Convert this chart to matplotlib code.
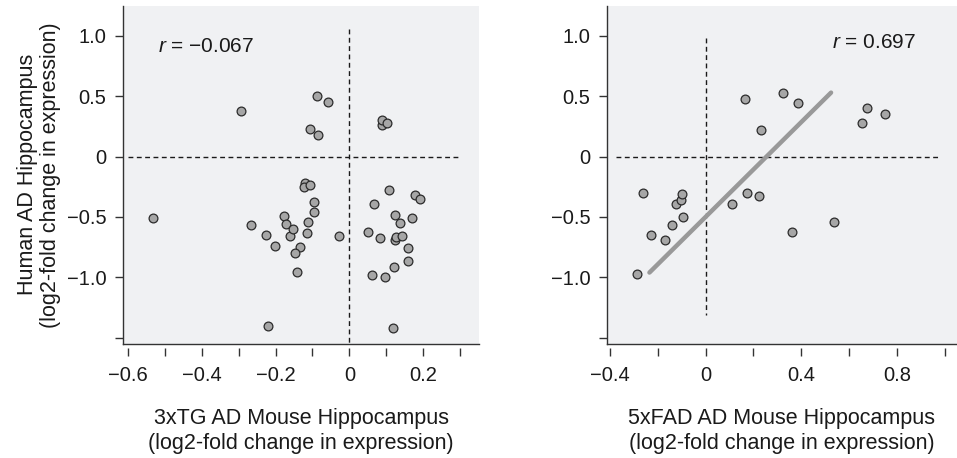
import numpy as np
import matplotlib
matplotlib.use("Agg")
import matplotlib.pyplot as plt

plt.rcParams['font.family'] = ['Liberation Sans', 'DejaVu Sans']
plt.rcParams['mathtext.fontset'] = 'custom'
plt.rcParams['mathtext.it'] = 'Liberation Sans:italic'
plt.rcParams['mathtext.rm'] = 'Liberation Sans'

# 3xTG vs human (left panel)
tg_x = [-0.534, -0.293, -0.267, -0.227, -0.201, -0.221, -0.176, -0.173, -0.161, -0.154,
        -0.134, -0.148, -0.141, -0.120, -0.122, -0.108, -0.095, -0.096, -0.113, -0.116,
        -0.108, -0.084, -0.089, -0.058, -0.027, 0.052, 0.068, 0.082, 0.061, 0.097,
        0.088, 0.090, 0.101, 0.107, 0.124, 0.138, 0.123, 0.128, 0.142, 0.170,
        0.178, 0.191, 0.159, 0.160, 0.122, 0.118]
tg_y = [-0.506, 0.374, -0.567, -0.653, -0.738, -1.403, -0.493, -0.561, -0.656, -0.600,
        -0.752, -0.799, -0.959, -0.222, -0.255, -0.236, -0.379, -0.462, -0.540, -0.636,
        0.225, 0.175, 0.498, 0.454, -0.656, -0.628, -0.396, -0.675, -0.978, -0.995,
        0.261, 0.302, 0.274, -0.280, -0.487, -0.553, -0.691, -0.664, -0.656, -0.509,
        -0.316, -0.354, -0.755, -0.863, -0.912, -1.422]
tg_r = "\u22120.067"

# 5xFAD vs human (right panel)
fad_x = [-0.287, -0.264, -0.230, -0.169, -0.142, -0.123, -0.105, -0.098, -0.093, 0.109,
         0.174, 0.223, 0.165, 0.232, 0.324, 0.388, 0.363, 0.537, 0.653, 0.676, 0.749]
fad_y = [-0.969, -0.306, -0.651, -0.693, -0.566, -0.392, -0.359, -0.312, -0.497, -0.395,
         -0.306, -0.326, 0.472, 0.218, 0.524, 0.444, -0.621, -0.546, 0.281, 0.402, 0.356]
fad_r = "0.697"
fit_slope = 1.96
fit_intercept = -0.50
fit_x = [-0.235, 0.525]

ytick_vals = [1.0, 0.5, 0.0, -0.5, -1.0, -1.5]
ytick_labels = ["1.0", "0.5", "0", "\u22120.5", "\u22121.0", ""]
left_xticks = [-0.6, -0.5, -0.4, -0.3, -0.2, -0.1, 0.0, 0.1, 0.2, 0.3]
left_xlabels = ["\u22120.6", "", "\u22120.4", "", "\u22120.2", "", "0", "", "0.2", ""]
right_xticks = [-0.4, -0.2, 0.0, 0.2, 0.4, 0.6, 0.8, 1.0]
right_xlabels = ["\u22120.4", "", "0", "", "0.4", "", "0.8", ""]

bg = "#f0f1f3"
dot_face = "#a6a6a6"
dot_edge = "#2b2b2b"
axc = "#333333"
txt = "#1a1a1a"
tick_fs = 14.5
label_fs = 15.5
r_fs = 15

fig = plt.figure(figsize=(9.57, 4.58), dpi=100)
W, H = 957, 458
ax1 = fig.add_axes([123 / W, 1 - 343.5 / H, (479 - 123) / W, (343.5 - 6) / H])
ax2 = fig.add_axes([607 / W, 1 - 343.5 / H, (957 - 607) / W, (343.5 - 6) / H])


def style(ax, xlim, xticks, xlabels):
    ax.set_facecolor(bg)
    ax.set_xlim(xlim)
    ax.set_ylim(-1.548, 1.246)
    for s in ["top", "right"]:
        ax.spines[s].set_visible(False)
    ax.spines["left"].set_color(axc)
    ax.spines["left"].set_linewidth(1.0)
    ax.spines["bottom"].set_position(("outward", 3))
    ax.spines["bottom"].set_visible(False)
    ax.plot([0, 1], [0, 0], transform=ax.transAxes, color=axc, lw=1.0, clip_on=False)
    ax.set_yticks(ytick_vals)
    ax.set_yticklabels(ytick_labels)
    ax.set_xticks(xticks)
    ax.set_xticklabels(xlabels)
    ax.tick_params(axis="both", direction="out", length=6, width=1.0, color=axc,
                   labelsize=tick_fs, labelcolor=txt)
    ax.tick_params(axis="x", pad=7)
    ax.tick_params(axis="y", pad=6)


style(ax1, (-0.6144, 0.352), left_xticks, left_xlabels)
style(ax2, (-0.4126, 1.052), right_xticks, right_xlabels)

dash = dict(color=txt, lw=1.0, dashes=(3.5, 2.5), zorder=1)
ax1.plot([-0.6, 0.3], [0, 0], **dash)
ax1.plot([0, 0], [1.053, -1.547], **dash)
ax2.plot([-0.377, 0.986], [0, 0], **dash)
ax2.plot([0, 0], [0.978, -1.311], **dash)

fx = np.array(fit_x)
ax2.plot(fx, fit_intercept + fit_slope * fx, color="#999999", lw=3.2,
         solid_capstyle="round", zorder=2)

ax1.scatter(tg_x, tg_y, s=40, facecolor=dot_face, edgecolor=dot_edge, linewidth=0.9, zorder=3)
ax2.scatter(fad_x, fad_y, s=40, facecolor=dot_face, edgecolor=dot_edge, linewidth=0.9, zorder=3)

ax1.text(-0.519, 0.909, "$r$ = " + tg_r, fontsize=r_fs, va="center", ha="left", color=txt)
ax2.text(0.530, 0.942, "$r$ = " + fad_r, fontsize=r_fs, va="center", ha="left", color=txt)

ax1.set_ylabel("Human AD Hippocampus\n(log2-fold change in expression)", fontsize=label_fs,
               color=txt, labelpad=4, linespacing=1.12)
ax1.set_xlabel("3xTG AD Mouse Hippocampus\n(log2-fold change in expression)", fontsize=label_fs,
               color=txt, labelpad=17, linespacing=1.25)
ax2.set_xlabel("5xFAD AD Mouse Hippocampus\n(log2-fold change in expression)", fontsize=label_fs,
               color=txt, labelpad=17, linespacing=1.25)

fig.savefig("out.png", dpi=100, facecolor="white")
